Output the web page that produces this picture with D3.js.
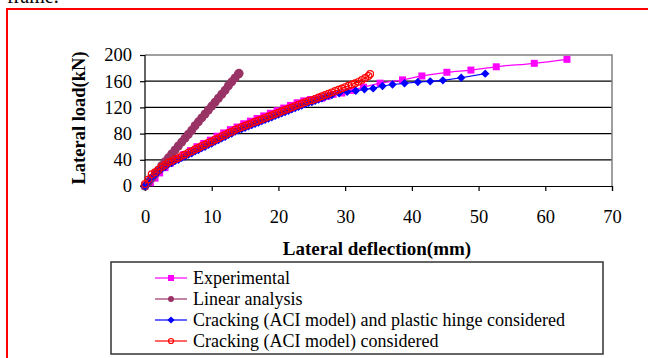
<!DOCTYPE html>
<html>
<head>
<meta charset="utf-8">
<script src="https://cdn.jsdelivr.net/npm/d3@7"></script>
<style>
  html, body { margin: 0; padding: 0; background: #fff; overflow: hidden; }
  svg { display: block; }
  text { font-family: "Liberation Serif", "Times New Roman", serif; fill: #000; }
</style>
</head>
<body>
<svg id="chart" width="648" height="358"></svg>
<script>
// ---------- data ----------
const xTicks = [0, 10, 20, 30, 40, 50, 60, 70];
const yTicks = [0, 40, 80, 120, 160, 200];

const seriesNames = [
  "Experimental",
  "Linear analysis",
  "Cracking (ACI model) and plastic hinge considered",
  "Cracking (ACI model) considered"
];

const expX = [0, 0.8, 1.5, 2.2, 3, 3.8, 4.8, 5.8, 6.8, 7.8, 8.8, 9.8, 10.8, 11.8, 12.8, 13.8, 14.8, 15.8, 16.8, 17.8, 18.8, 19.8, 20.8, 21.8, 22.8, 23.8, 24.8, 25.7, 26.5, 27.3, 28.2, 29.5, 31, 32.75, 35.25, 38.6, 41.5, 45.25, 48.85, 52.65, 58.35, 63.25];
const expY = [0, 5, 12, 20, 28, 35, 42, 48, 54, 60, 65, 70, 76, 81, 86, 90, 95, 99, 103, 107, 111, 115, 119, 123, 127, 130, 132, 133, 134, 137, 140, 142, 146, 151, 157, 162, 168, 173.6, 177, 182, 187.3, 193.4];

const linX = [0, 0.5, 1, 1.5, 2, 2.5, 3, 3.5, 4, 4.5, 5, 5.5, 6, 6.5, 7, 7.5, 8, 8.5, 9, 9.5, 10, 10.5, 11, 11.5, 12, 12.5, 13, 13.5, 14, 14.1];
const linY = [0, 6, 12, 18, 24, 31, 37, 43, 49, 55, 61, 67, 73, 79, 85, 92, 98, 104, 110, 116, 122, 128, 134, 140, 146, 153, 159, 165, 171, 172];

const hingeX = [0, 0.5, 1, 1.5, 2, 2.5, 3, 3.5, 4, 4.5, 5, 5.5, 6, 6.5, 7, 7.5, 8, 8.5, 9, 9.5, 10, 10.5, 11, 11.5, 12, 12.5, 13, 13.5, 14, 14.5, 15, 15.5, 16, 16.5, 17, 17.5, 18, 18.5, 19, 19.5, 20, 20.5, 21, 21.5, 22, 22.5, 23, 23.5, 24, 24.5, 25, 25.5, 26, 26.5, 27, 27.5, 28, 29.1, 30.3, 31.6, 32.9, 34.2, 35.6, 37.1, 38.9, 40.9, 42.75, 44.65, 47.4, 51];
const hingeY = [0, 6, 13, 18, 22, 26, 29, 33, 35, 38, 40, 43, 45, 48, 50, 53, 55, 58, 60, 63, 65, 68, 70, 73, 75, 78, 80, 83, 85, 87, 89, 91, 93, 95, 97, 99, 101, 103, 105, 107, 109, 111, 113, 115, 117, 119, 121, 123, 125, 127, 128, 130, 132, 134, 136, 138, 139, 141.5, 144, 145.5, 147.6, 149, 152.7, 155, 156.8, 158.8, 159.8, 161.3, 165.3, 171.5];

const crackX = [0, 0.5, 1, 1.5, 2, 2.5, 3, 3.5, 4, 4.5, 5, 5.5, 6, 6.5, 7, 7.5, 8, 8.5, 9, 9.5, 10, 10.5, 11, 11.5, 12, 12.5, 13, 13.5, 14, 14.5, 15, 15.5, 16, 16.5, 17, 17.5, 18, 18.5, 19, 19.5, 20, 20.5, 21, 21.5, 22, 22.5, 23, 23.5, 24, 24.5, 25, 25.5, 26, 26.5, 27, 27.5, 28, 28.5, 29, 29.5, 30, 30.5, 31, 31.5, 32, 32.5, 33, 33.5, 33.75];
const crackY = [3, 10, 18, 21, 25, 29, 32, 36, 38, 41, 43, 46, 48, 51, 53, 56, 58, 61, 63, 66, 68, 71, 73, 76, 78, 81, 83, 86, 88, 90, 92, 94, 96, 98, 100, 102, 104, 106, 108, 110, 112, 114, 116, 118, 120, 122, 124, 126, 128, 130, 131, 133, 135, 137, 139, 141, 143, 145, 147, 149, 151, 153, 155, 157, 159, 162, 165, 168, 171];

// ---------- layout ----------
const svg = d3.select("#chart");
const plot = { left: 145, right: 612, top: 55, bottom: 186 };

const x = d3.scaleLinear().domain([0, 70]).range([plot.left, plot.right]);
const y = d3.scaleLinear().domain([0, 200]).range([plot.bottom, plot.top]);

// partial text at top (cut off, as in the source page)
svg.append("text").attr("x", 7).attr("y", 3).attr("font-size", 20).text("frame.");

// red frame
svg.append("rect")
  .attr("x", 7).attr("y", 9).attr("width", 700).attr("height", 400)
  .attr("fill", "none").attr("stroke", "#ff0000").attr("stroke-width", 2);

// gridlines
svg.append("g").selectAll("line")
  .data(yTicks.filter(d => d > 0 && d < 200))
  .join("line")
  .attr("x1", plot.left).attr("x2", plot.right)
  .attr("y1", d => y(d)).attr("y2", d => y(d))
  .attr("stroke", "#000").attr("stroke-width", 1.2);

// top and right plot border (grey)
svg.append("path")
  .attr("d", `M${plot.left},${y(200)}H${plot.right}V${plot.bottom}`)
  .attr("fill", "none").attr("stroke", "#808080").attr("stroke-width", 1.5);

// axes
const xAxis = d3.axisBottom(x).tickValues(xTicks).tickSize(5).tickPadding(19);
const yAxis = d3.axisLeft(y).tickValues(yTicks).tickSize(5).tickPadding(8);

const gx = svg.append("g").attr("transform", `translate(0,${plot.bottom})`).call(xAxis);
const gy = svg.append("g").attr("transform", `translate(${plot.left},0)`).call(yAxis);
[gx, gy].forEach(g => {
  g.select(".domain").attr("stroke", "#000").attr("stroke-width", 1.2);
  g.selectAll(".tick line").attr("stroke", "#000").attr("stroke-width", 1.2);
  g.selectAll(".tick text")
    .attr("font-family", '"Liberation Serif", "Times New Roman", serif')
    .attr("font-size", 18.5).attr("fill", "#000");
});
gy.select(".domain").attr("d", `M-5,${plot.bottom}H0V${plot.top}`);

// axis titles
svg.append("text")
  .attr("x", 377).attr("y", 255)
  .attr("text-anchor", "middle").attr("font-weight", "bold").attr("font-size", 19)
  .text("Lateral deflection(mm)");
svg.append("text")
  .attr("transform", "translate(85,118) rotate(-90)")
  .attr("text-anchor", "middle").attr("font-weight", "bold").attr("font-size", 18.5)
  .text("Lateral load(kN)");

// ---------- series ----------
const zipPts = (xs, ys) => xs.map((v, i) => [v, ys[i]]);
const lineGen = d3.line().x(d => x(d[0])).y(d => y(d[1]));
const smoothGen = d3.line().x(d => x(d[0])).y(d => y(d[1])).curve(d3.curveMonotoneX);

const series = [
  { name: seriesNames[0], pts: zipPts(expX, expY), color: "#ff00ff", marker: "square", gen: smoothGen },
  { name: seriesNames[1], pts: zipPts(linX, linY), color: "#993366", marker: "circle", gen: lineGen },
  { name: seriesNames[2], pts: zipPts(hingeX, hingeY), color: "#0000ff", marker: "diamond", gen: lineGen },
  { name: seriesNames[3], pts: zipPts(crackX, crackY), color: "#ff0000", marker: "open", gen: lineGen }
];

function drawMarker(g, m, color, cx, cy, s) {
  if (m === "square") {
    g.append("rect").attr("x", cx - s * 0.5).attr("y", cy - s * 0.5)
      .attr("width", s).attr("height", s).attr("fill", color);
  } else if (m === "circle") {
    g.append("circle").attr("cx", cx).attr("cy", cy).attr("r", s * 0.5).attr("fill", color);
  } else if (m === "diamond") {
    const h = s * 0.6;
    g.append("path").attr("d", `M${cx},${cy - h}L${cx + h},${cy}L${cx},${cy + h}L${cx - h},${cy}Z`).attr("fill", color);
  } else {
    g.append("circle").attr("cx", cx).attr("cy", cy).attr("r", s * 0.42)
      .attr("fill", "none").attr("stroke", color).attr("stroke-width", 1.2);
  }
}

const sizes = { square: 7, circle: 9, diamond: 7, open: 8 };

series.forEach(s => {
  const g = svg.append("g");
  g.append("path").attr("d", s.gen(s.pts)).attr("fill", "none")
    .attr("stroke", s.color).attr("stroke-width", 1.2);
  s.pts.forEach(p => drawMarker(g, s.marker, s.color, x(p[0]), y(p[1]), sizes[s.marker]));
});

// ---------- legend ----------
const lg = svg.append("g");
lg.append("rect").attr("x", 111).attr("y", 262).attr("width", 492).attr("height", 92)
  .attr("fill", "#fff").attr("stroke", "#333").attr("stroke-width", 1.5);
const rowY = [278, 299, 320, 341];
const legendSizes = { square: 6, circle: 6, diamond: 6, open: 6 };
series.forEach((s, i) => {
  const cy = rowY[i];
  lg.append("line").attr("x1", 155).attr("x2", 187).attr("y1", cy).attr("y2", cy)
    .attr("stroke", s.color).attr("stroke-width", 1.2);
  drawMarker(lg, s.marker, s.color, 171, cy, legendSizes[s.marker]);
  lg.append("text").attr("x", 193).attr("y", cy + 6).attr("font-size", 18).text(s.name);
});
</script>
</body>
</html>
